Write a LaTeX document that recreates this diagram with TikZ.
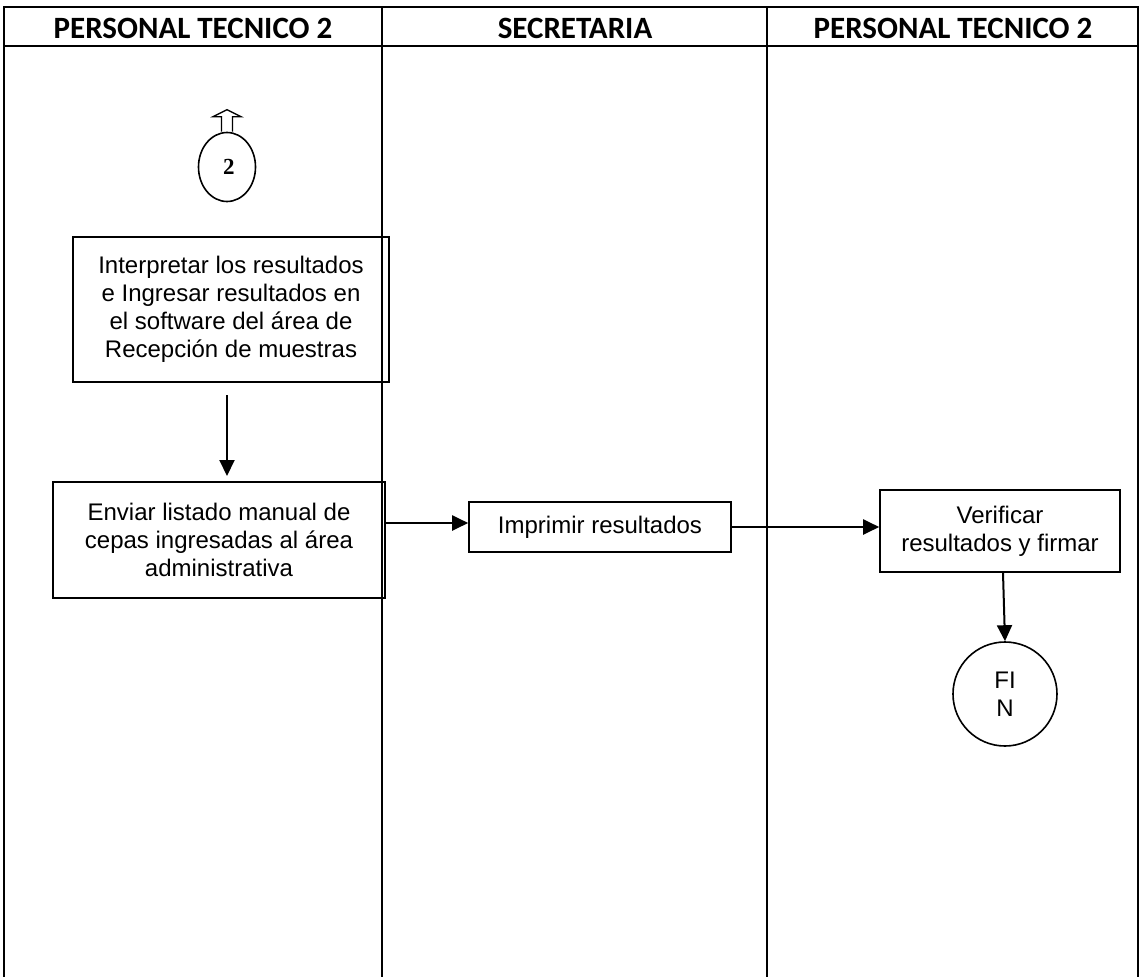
\documentclass[tikz,border=0pt]{standalone}
\usepackage{fontspec}
\setmainfont{Liberation Sans}
\newfontfamily\headfont{Carlito}
\newfontfamily\numfont{Liberation Serif}
\usetikzlibrary{shapes.geometric,arrows.meta,calc}

\tikzset{
  lane/.style={line width=2pt},
  lanehead/.style={font=\headfont\bfseries\fontsize{31}{36}\selectfont, anchor=center},
  stepbox/.style={draw, line width=1.6pt, align=center, inner sep=2pt,
    font=\fontsize{24}{28}\selectfont},
  flow/.style={line width=2pt, -{Triangle[length=16pt,width=15pt]}},
}

\begin{document}
\begin{tikzpicture}[x=1pt,y=-1pt]
\useasboundingbox (0,0) rectangle (1141,977);

% swimlane frame
\draw[lane] (4,977) -- (4,7) -- (1138,7) -- (1138,977);
\draw[lane] (4,46) -- (1138,46);
\draw[lane] (382,7) -- (382,977);
\draw[lane] (767,7) -- (767,977);

% lane titles
\node[lanehead] (h1) at (193,28) {PERSONAL TECNICO 2};
\node[lanehead] (h2) at (575,28) {SECRETARIA};
\node[lanehead] (h3) at (953,28) {PERSONAL TECNICO 2};

% off-page connector with hollow arrow
\node[draw, ellipse, line width=1.6pt, minimum width=57pt, minimum height=69pt,
      inner sep=0pt, font=\numfont\bfseries\fontsize{23}{26}\selectfont]
      (c2) at (227,167) {\,2};
\draw[line width=1.4pt, line join=miter]
  ($(c2.north)+(-5.5,0)$) -- ++(0,-15) -- ++(-8.5,0) -- ++(14,-7)
  -- ++(14,7) -- ++(-8.5,0) -- ++(0,15);

% process steps
\node[stepbox, minimum width=316pt, minimum height=145pt] (b1) at (231,309.5)
  {Interpretar los resultados\\e Ingresar resultados en\\el software del área de\\Recepción de muestras};
\node[stepbox, minimum width=332pt, minimum height=116pt] (b2) at (219,540)
  {Enviar listado manual de\\cepas ingresadas al área\\administrativa};
\node[stepbox, minimum width=262pt, minimum height=50pt] (b3) at (600,527)
  {Imprimir resultados};
\node[stepbox, minimum width=240pt, minimum height=82pt] (b4) at (1000,531)
  {Verificar\\resultados y firmar};
\node[draw, circle, line width=1.6pt, minimum size=104pt, align=center,
      font=\fontsize{24}{28}\selectfont] (fin) at (1005,694) {FI\\N};

% connectors
\coordinate (a1) at (227,395);
\coordinate (a2) at (227,476);
\draw[flow] (a1) -- (a2);
\draw[flow] ($(b2.east)+(0,-17)$) -- (b3.west |- 0,523);
\draw[flow] (b3.east) -- (b4.west |- b3.east);
\draw[flow] (b4.south -| 1003,0) -- (fin.north);
\end{tikzpicture}
\end{document}
